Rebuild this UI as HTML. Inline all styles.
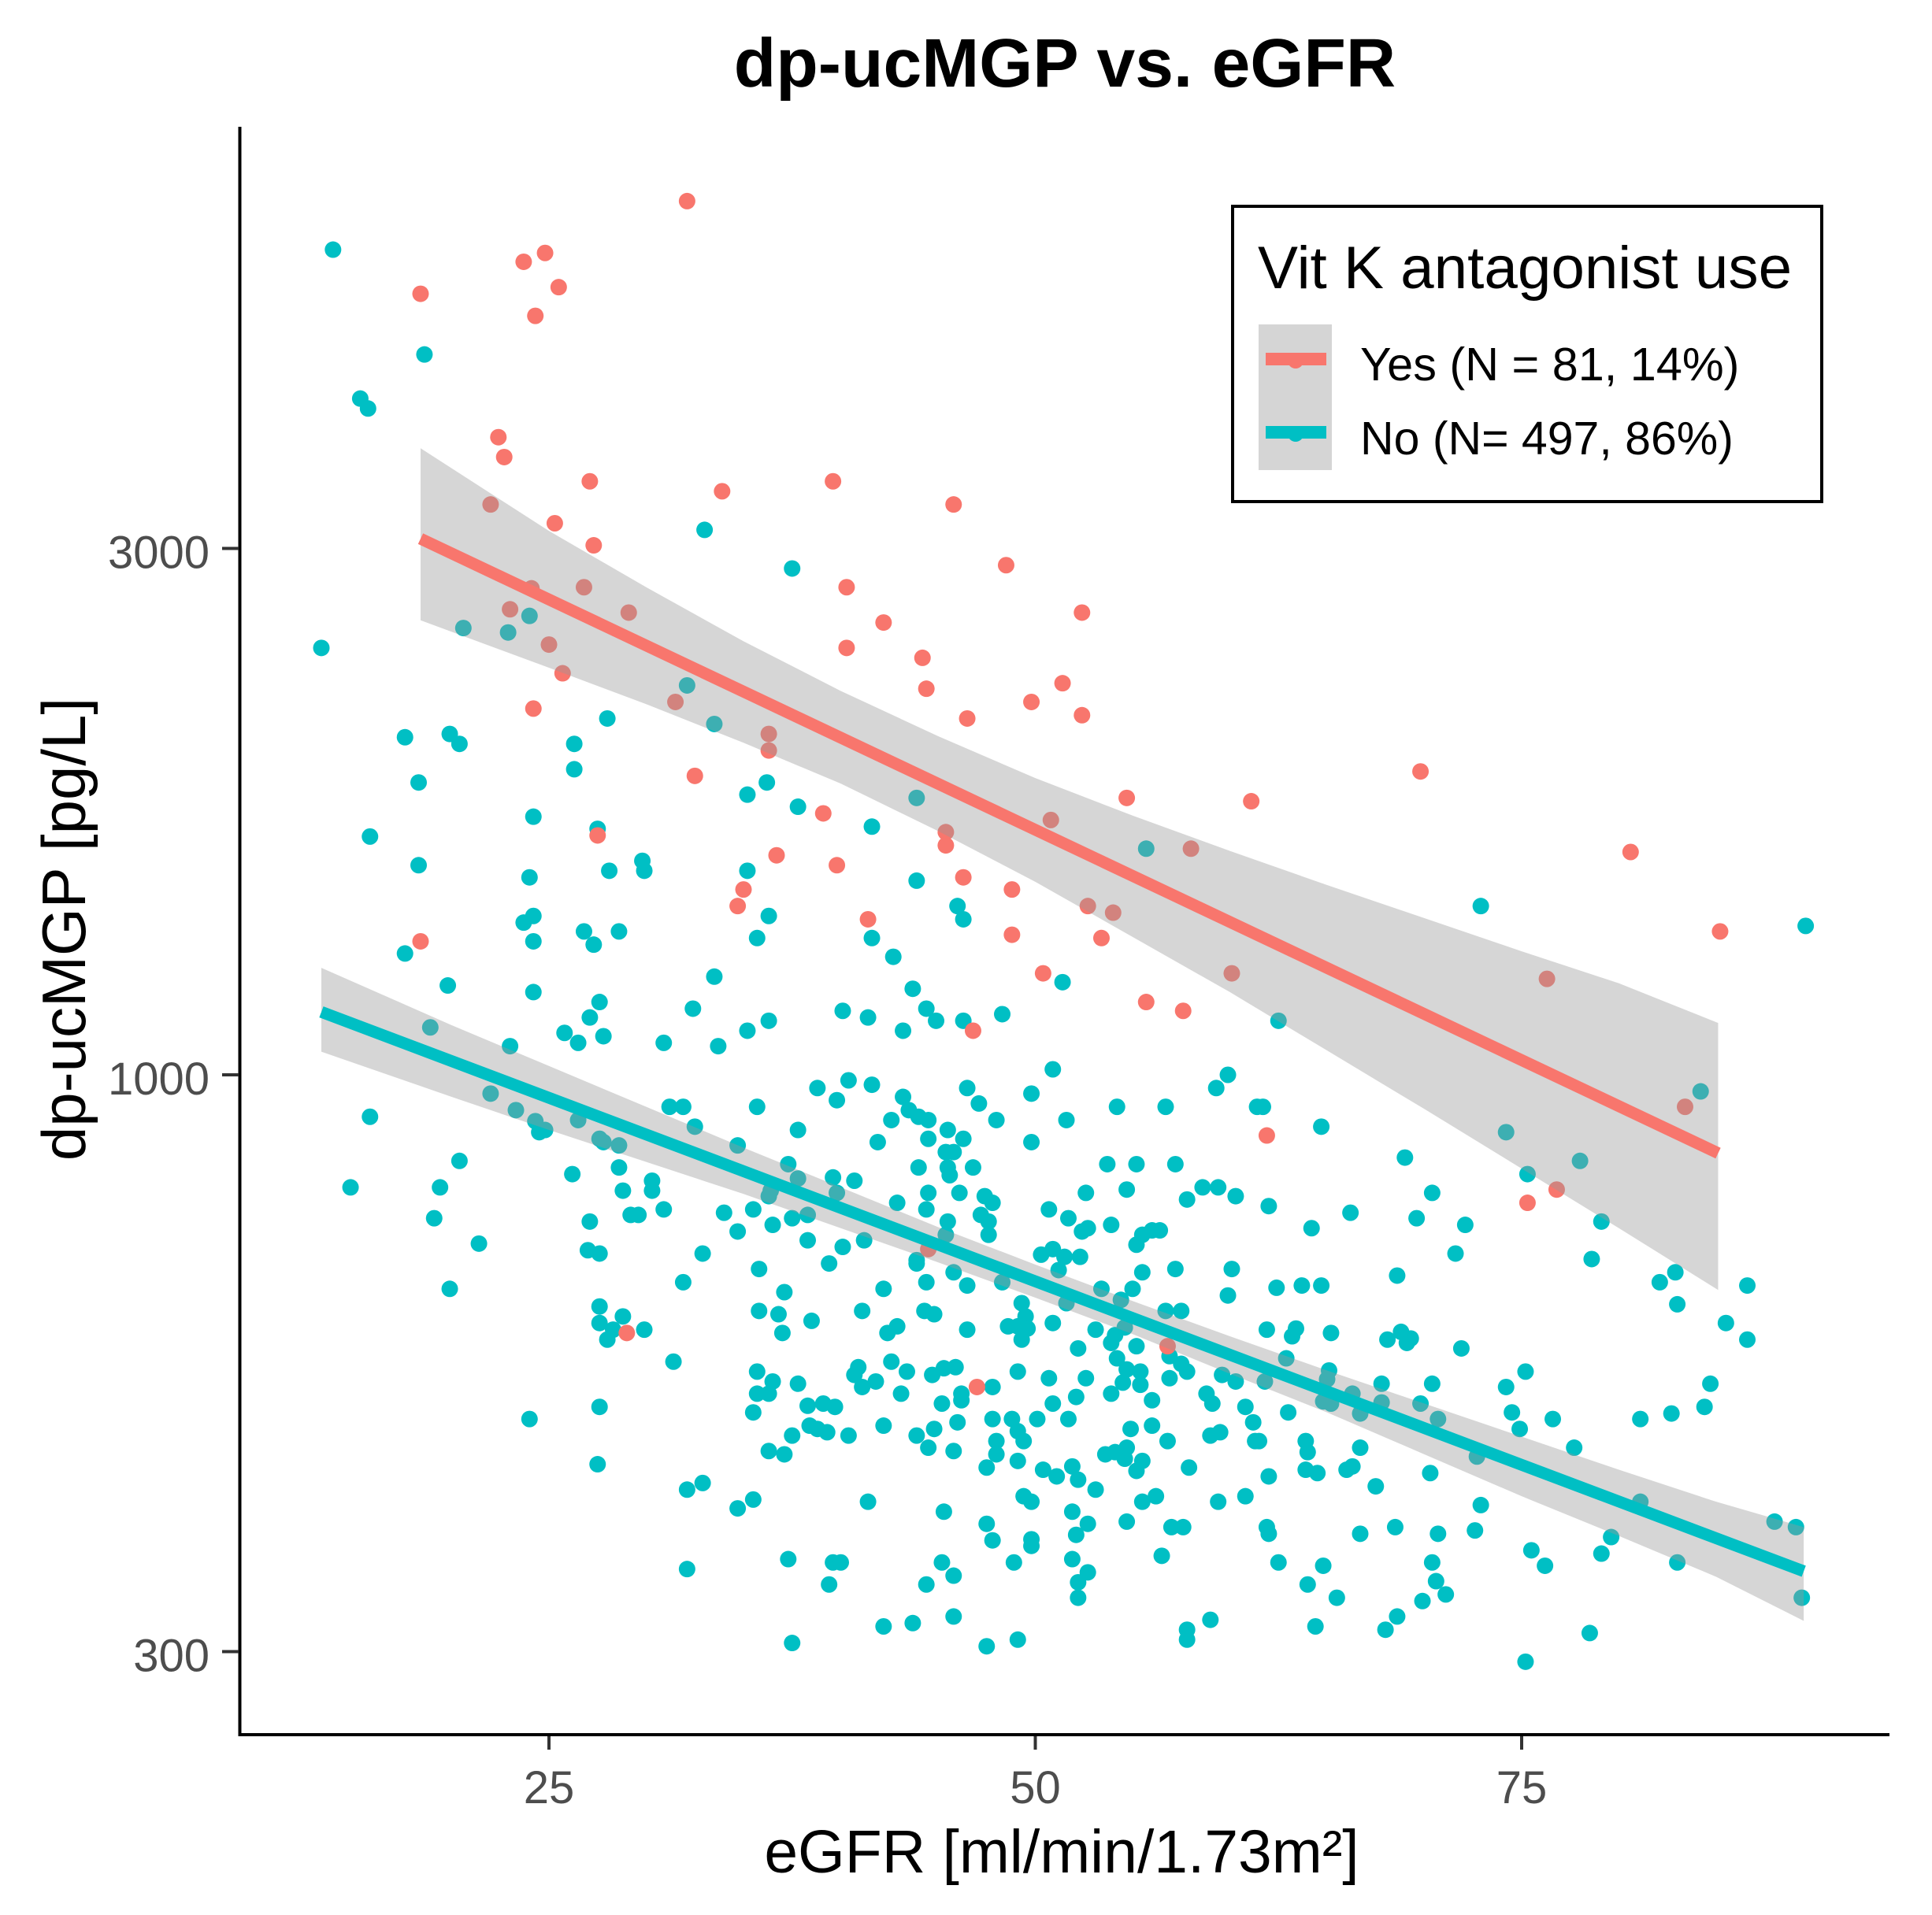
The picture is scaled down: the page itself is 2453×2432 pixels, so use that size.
<!DOCTYPE html>
<html lang="en">
<head>
<meta charset="utf-8">
<title>dp-ucMGP vs. eGFR</title>
<style>
html,body{margin:0;padding:0;background:#fff;width:2453px;height:2432px;overflow:hidden}
svg{display:block;font-family:"Liberation Sans",Arial,sans-serif}
</style>
</head>
<body>
<svg id="chart" xmlns="http://www.w3.org/2000/svg" width="2453" height="2432" viewBox="0 0 2453 2432">
  <rect x="0" y="0" width="2453" height="2432" fill="#ffffff"/>
  <text x="1352" y="110" font-size="87.6" font-weight="bold" text-anchor="middle" fill="#000">dp-ucMGP vs. eGFR</text>
  <g id="points"></g>
  <g id="fits"></g>
  <g id="axes"></g>
  <text x="1348" y="2378" font-size="76.8" text-anchor="middle" fill="#000">eGFR [ml/min/1.73m²]</text>
  <text transform="translate(108,1180) rotate(-90)" font-size="78" text-anchor="middle" fill="#000">dp-ucMGP [pg/L]</text>
  <g>
    <rect x="1565" y="262" width="748" height="375" fill="#fff" stroke="#000" stroke-width="4"/>
    <text x="1597" y="366" font-size="76.4" fill="#000">Vit K antagonist use</text>
    <rect x="1598" y="412" width="93" height="185" fill="#d5d5d5"/>
    <circle cx="1645" cy="458" r="10" fill="#F8766D"/>
    <rect x="1607" y="448" width="77" height="16" fill="#F8766D"/>
    <circle cx="1645" cy="551" r="10" fill="#00BFC4"/>
    <rect x="1607" y="541" width="77" height="16" fill="#00BFC4"/>
    <text x="1727" y="483" font-size="59.4" fill="#000">Yes (N = 81, 14%)</text>
    <text x="1727" y="577" font-size="59" fill="#000">No (N= 497, 86%)</text>
  </g>
</svg>
<script>
const xTicks = [25, 50, 75];
const yTicks = [3000, 1000, 300];

const yesEgfr = [
23.7,24.8,25.5,24.3,18.4,22.4,22.7,27.1,22.0,25.3,
27.3,26.8,23.0,24.1,29.1,25.0,25.7,24.2,27.5,18.4,
29.0,32.1,33.9,39.6,45.8,48.5,40.3,52.4,42.2,40.3,
44.2,44.4,51.4,49.8,52.4,46.5,31.5,36.3,36.3,32.5,
54.7,61.1,50.8,39.1,45.4,45.4,36.7,39.8,46.3,35.0,
34.7,48.8,41.4,48.8,52.7,54.0,53.4,58.0,60.1,50.4,
55.7,57.6,46.8,44.5,69.8,80.6,85.2,76.3,83.4,61.9,
76.8,75.3,47.0,56.8
];
const yesLogMgp = [
3.737,3.745,3.714,3.688,3.708,3.578,3.560,3.538,3.517,3.500,
3.480,3.442,3.422,3.441,3.419,3.390,3.364,3.332,3.217,3.121,
2.766,3.792,3.529,3.538,3.517,3.462,3.442,3.419,3.410,3.387,
3.378,3.350,3.355,3.338,3.326,3.323,3.338,3.294,3.309,3.271,
3.251,3.248,3.231,3.237,3.220,3.208,3.199,3.190,3.179,3.168,
3.153,3.168,3.141,3.127,3.153,3.147,3.124,3.205,3.092,3.092,
3.066,3.058,3.040,2.842,3.275,3.202,3.130,3.087,2.971,2.945,
2.896,2.884,2.717,2.754
];

const noEgfr = [
13.9,18.6,15.3,15.7,24.0,20.6,22.9,13.3,28.0,17.6,
19.9,20.4,26.3,26.3,18.3,24.2,27.5,15.8,18.3,28.1,
24.0,23.7,24.2,24.2,26.8,27.3,28.6,17.6,19.8,24.2,
27.6,27.1,25.8,26.5,27.8,18.9,23.0,22.0,23.3,15.8,
26.5,24.3,24.8,24.5,27.6,27.8,28.6,20.4,28.6,26.2,
14.8,19.4,28.8,19.1,27.1,21.4,27.0,27.6,29.2,19.9,
27.6,27.6,28.0,28.3,28.8,27.6,24.0,27.5,33.0,37.5,
32.1,33.5,36.2,35.2,37.8,43.9,41.6,29.8,29.9,35.2,
36.3,43.9,46.0,46.3,35.7,41.6,42.7,33.5,43.7,32.4,
44.4,44.9,46.3,48.3,51.4,55.7,40.1,41.4,43.2,36.3,
35.2,30.9,33.7,38.8,40.4,41.6,39.8,35.7,31.2,31.9,
32.5,34.7,37.8,37.3,37.8,39.6,40.7,42.6,41.9,43.2,
43.5,44.0,44.5,46.5,47.1,48.0,45.5,44.5,46.3,45.4,
45.8,45.5,45.6,44.0,46.8,49.8,50.9,51.6,49.8,54.2,
56.7,59.3,59.9,61.4,53.7,55.2,57.2,52.6,54.7,57.8,
58.6,59.4,60.3,44.5,46.1,47.4,47.8,42.9,44.4,47.2,
47.6,45.5,47.6,45.4,50.7,51.7,52.4,52.7,53.9,55.2,
55.5,56.0,56.4,50.9,50.3,52.3,51.5,34.0,35.5,30.9,
30.3,30.3,29.6,36.3,36.4,34.7,36.5,37.5,38.3,39.8,
38.3,40.1,41.2,32.9,43.9,72.9,89.6,62.5,84.2,74.2,
64.7,61.7,78.0,75.3,69.0,70.4,62.0,66.2,69.6,72.1,
64.2,79.1,71.6,78.6,68.6,62.4,63.7,64.7,82.9,82.1,
86.6,83.0,85.5,86.6,61.9,63.4,63.2,65.2,68.1,68.8,
69.3,69.1,71.9,62.9,65.1,65.0,61.8,67.8,70.4,75.2,
74.2,84.7,66.3,64.8,65.2,67.8,69.8,66.7,63.0,70.7,
74.5,76.6,74.9,81.1,82.7,84.4,66.7,77.7,63.9,64.0,
61.5,72.7,63.9,64.5,62.0,66.0,66.3,70.3,67.5,81.1,
72.9,79.6,61.9,62.0,66.7,68.5,70.7,72.6,88.0,89.1,
75.5,76.2,79.1,83.0,62.5,64.8,70.4,64.0,70.6,71.1,
69.9,65.5,89.4,64.4,68.6,68.0,78.5,75.2,35.8,39.4,
43.9,31.9,37.1,42.2,44.4,45.8,46.5,48.3,51.2,53.4,
55.5,55.0,57.2,60.1,59.9,54.4,49.3,35.8,36.8,41.1,
38.5,44.3,44.8,49.5,51.6,56.7,57.5,37.0,29.9,42.4,
42.9,46.5,48.6,49.1,49.6,49.3,50.9,53.1,53.9,54.1,
54.6,55.2,52.2,56.9,54.2,57.5,57.8,31.4,40.9,42.6,
40.7,43.4,44.7,45.3,45.9,49.1,50.7,52.6,54.7,55.4,
56.9,35.7,36.5,37.8,36.3,35.7,41.1,41.8,43.1,47.8,
46.2,46.2,53.9,54.5,55.4,56.0,52.1,58.8,59.1,60.8,
59.6,60.3,45.2,50.9,38.3,39.1,39.7,35.5,47.8,48.8,
50.1,51.7,46.0,42.2,38.4,38.8,39.3,40.4,37.5,44.8,
43.9,54.9,56.0,61.2,49.1,49.4,44.5,48.0,48.0,56.8,
59.0,59.5,61.3,36.3,37.1,45.8,49.1,53.6,54.7,54.1,
54.6,55.5,55.2,47.5,57.9,50.4,51.1,51.9,52.2,53.1,
32.1,32.9,34.7,35.5,41.4,45.3,49.4,49.8,51.9,56.2,
55.5,59.4,60.8,54.7,47.5,52.7,52.1,57.0,57.6,47.8,
49.8,49.8,56.5,32.1,37.3,39.6,40.0,45.2,48.9,51.9,
45.8,52.7,52.2,39.4,44.4,52.2,42.2,43.7,45.8,59.0,
57.8,57.8,37.5,47.5,49.1
];
const noLogMgp = [
3.748,3.653,3.613,3.604,3.416,3.405,3.401,3.387,3.323,3.306,
3.309,3.300,3.300,3.277,3.265,3.234,3.223,3.216,3.190,3.185,
3.179,3.138,3.144,3.121,3.130,3.118,3.130,3.110,3.081,3.075,
3.066,3.052,3.038,3.029,3.035,3.043,3.026,2.983,2.968,2.962,
2.959,2.958,2.950,2.948,2.942,2.939,2.936,2.922,2.916,2.910,
2.898,2.898,2.895,2.870,2.867,2.847,2.841,2.838,2.873,2.806,
2.790,2.775,2.760,2.769,2.781,2.699,2.688,2.647,3.494,3.459,
3.353,3.318,3.265,3.254,3.243,3.251,3.225,3.194,3.185,3.185,
3.144,3.176,3.153,3.141,3.124,3.124,3.107,3.089,3.078,3.060,
3.060,3.049,3.049,3.055,3.084,3.205,3.058,3.052,3.040,3.049,
3.040,3.029,3.026,2.988,2.995,2.991,2.977,2.971,2.971,2.971,
2.953,2.936,2.950,2.919,2.906,2.907,2.904,2.959,2.939,2.980,
2.968,2.962,2.959,2.988,2.974,2.959,2.950,2.942,2.942,2.930,
2.930,2.916,2.909,2.916,2.916,2.983,3.005,2.959,2.939,2.971,
2.971,2.988,3.000,2.971,2.919,2.919,2.919,2.893,2.896,2.887,
2.898,2.898,2.890,2.893,2.893,2.890,2.884,2.884,2.878,2.873,
2.867,2.867,2.855,2.855,2.878,2.870,2.858,2.861,2.864,2.846,
2.855,2.859,2.859,2.842,2.837,2.835,2.835,2.875,2.878,2.878,
2.904,2.895,2.873,2.890,2.895,2.858,2.864,2.870,2.873,2.893,
2.850,2.844,2.850,2.838,2.832,3.153,3.135,3.049,2.985,2.948,
2.953,2.971,2.922,2.910,2.925,2.893,2.881,2.875,2.870,2.864,
2.861,2.867,2.838,2.833,2.818,2.807,2.809,2.809,2.821,2.812,
2.809,2.792,2.775,2.760,2.769,2.770,2.763,2.766,2.760,2.767,
2.761,2.757,2.752,2.743,2.732,2.724,2.722,2.720,2.720,2.731,
2.717,2.720,2.711,2.704,2.702,2.703,2.702,2.693,2.694,2.688,
2.694,2.688,2.679,2.688,2.693,2.699,2.662,2.662,2.668,2.658,
2.668,2.654,2.642,2.639,2.636,2.642,2.645,2.639,2.627,2.613,
2.610,2.581,2.590,2.584,2.584,2.590,2.584,2.587,2.595,2.590,
2.569,2.555,2.566,2.558,2.558,2.555,2.558,2.538,2.541,2.529,
2.523,2.526,2.526,2.500,2.509,2.497,2.494,2.468,2.824,2.829,
2.829,2.812,2.803,2.806,2.812,2.821,2.809,2.812,2.823,2.806,
2.821,2.806,2.824,2.824,2.800,2.796,2.793,2.786,2.783,2.786,
2.777,2.786,2.783,2.781,2.793,2.786,2.786,2.766,2.769,2.766,
2.772,2.769,2.772,2.772,2.770,2.760,2.775,2.769,2.757,2.764,
2.771,2.754,2.752,2.745,2.743,2.738,2.731,2.740,2.735,2.740,
2.728,2.731,2.728,2.734,2.735,2.731,2.725,2.725,2.733,2.731,
2.725,2.731,2.722,2.720,2.711,2.711,2.717,2.722,2.711,2.717,
2.711,2.705,2.711,2.721,2.719,2.705,2.708,2.711,2.702,2.699,
2.728,2.722,2.702,2.702,2.700,2.702,2.699,2.694,2.688,2.688,
2.688,2.688,2.685,2.682,2.682,2.679,2.676,2.673,2.673,2.679,
2.673,2.679,2.682,2.685,2.677,2.668,2.662,2.668,2.656,2.668,
2.673,2.676,2.668,2.659,2.656,2.659,2.650,2.656,2.662,2.658,
2.652,2.650,2.641,2.644,2.644,2.642,2.636,2.645,2.633,2.624,
2.624,2.630,2.607,2.615,2.613,2.604,2.618,2.613,2.604,2.618,
2.613,2.613,2.618,2.595,2.593,2.593,2.583,2.590,2.590,2.578,
2.579,2.573,2.564,2.552,2.561,2.558,2.558,2.558,2.558,2.561,
2.546,2.549,2.540,2.538,2.538,2.526,2.500,2.503,2.509,2.506,
2.497,2.488,2.485,2.482,2.488
];

const yesFitEgfr = [18.4, 85.1];
const yesFitLog = [3.486, 2.929];
const noFitEgfr = [13.3, 89.5];
const noFitLog = [3.057, 2.550];

const yesBandEgfr = [18.4, 25, 30, 35, 40, 45, 50, 55, 60, 65, 70, 75, 80, 85.1];
const yesUpperLog = [3.568, 3.493, 3.442, 3.393, 3.348, 3.307, 3.269, 3.235, 3.203, 3.172, 3.142, 3.112, 3.083, 3.047];
const yesLowerLog = [3.412, 3.369, 3.336, 3.301, 3.264, 3.221, 3.175, 3.125, 3.075, 3.022, 2.969, 2.915, 2.861, 2.805];

const noBandEgfr = [13.3, 20, 25, 30, 35, 40, 45, 50, 55, 60, 65, 70, 75, 80, 85, 89.5];
const noUpperLog = [3.097, 3.045, 3.008, 2.971, 2.934, 2.898, 2.862, 2.828, 2.795, 2.763, 2.732, 2.702, 2.672, 2.642, 2.613, 2.590];
const noLowerLog = [3.021, 2.980, 2.950, 2.921, 2.892, 2.861, 2.830, 2.798, 2.765, 2.729, 2.694, 2.656, 2.618, 2.582, 2.545, 2.505];

const SVG_NS = 'http://www.w3.org/2000/svg';
const xPos = function (egfr) { return 697 + (egfr - 25) * 24.7; };
const yPos = function (logValue) { return 1365 - (logValue - 3) * 1401; };

function make(tag, attrs, parent) {
  const el = document.createElementNS(SVG_NS, tag);
  Object.keys(attrs).forEach(function (k) { el.setAttribute(k, attrs[k]); });
  parent.appendChild(el);
  return el;
}

const pointsLayer = document.getElementById('points');
function drawPoints(xs, ys, color, name) {
  xs.forEach(function (x, i) {
    const c = make('circle', { cx: xPos(x), cy: yPos(ys[i]), r: 10.5, fill: color }, pointsLayer);
    
    
  });
}
drawPoints(noEgfr, noLogMgp, '#00BFC4', 'point-no');
drawPoints(yesEgfr, yesLogMgp, '#F8766D', 'point-yes');

const fitLayer = document.getElementById('fits');
function drawRibbon(xs, upper, lower, name) {
  const up = xs.map(function (x, i) { return xPos(x) + ',' + yPos(upper[i]); });
  const low = xs.map(function (x, i) { return xPos(x) + ',' + yPos(lower[i]); }).reverse();
  const r = make('polygon', { points: up.concat(low).join(' '), fill: '#999999', 'fill-opacity': 0.4 }, fitLayer);
  
  
}
function drawFit(xs, ys, color, name) {
  const l = make('polyline', {
    points: xs.map(function (x, i) { return xPos(x) + ',' + yPos(ys[i]); }).join(' '),
    fill: 'none', stroke: color, 'stroke-width': 15
  }, fitLayer);
  
  
}
drawRibbon(yesBandEgfr, yesUpperLog, yesLowerLog, 'confidence-band-yes');
drawRibbon(noBandEgfr, noUpperLog, noLowerLog, 'confidence-band-no');
drawFit(yesFitEgfr, yesFitLog, '#F8766D', 'fit-line-yes');
drawFit(noFitEgfr, noFitLog, '#00BFC4', 'fit-line-no');

const axes = document.getElementById('axes');
const yAxisLine = make('line', { x1: 304.5, y1: 161, x2: 304.5, y2: 2205, stroke: '#000', 'stroke-width': 4 }, axes);


const xAxisLine = make('line', { x1: 302.5, y1: 2203, x2: 2399, y2: 2203, stroke: '#000', 'stroke-width': 4 }, axes);



xTicks.forEach(function (v) {
  const t = make('line', { x1: xPos(v), y1: 2205, x2: xPos(v), y2: 2222, stroke: '#333', 'stroke-width': 4 }, axes);
  
  
  const label = make('text', { x: xPos(v), y: 2290, 'font-size': 58, 'text-anchor': 'middle', fill: '#4D4D4D' }, axes);
  label.textContent = String(v);
  
  
});
yTicks.forEach(function (v) {
  const py = yPos(Math.log10(v));
  const t = make('line', { x1: 282, y1: py, x2: 303, y2: py, stroke: '#333', 'stroke-width': 4 }, axes);
  
  
  const label = make('text', { x: 266, y: py + 25, 'font-size': 58, 'text-anchor': 'end', fill: '#4D4D4D' }, axes);
  label.textContent = String(v);
  
  
});
</script>
</body>
</html>
